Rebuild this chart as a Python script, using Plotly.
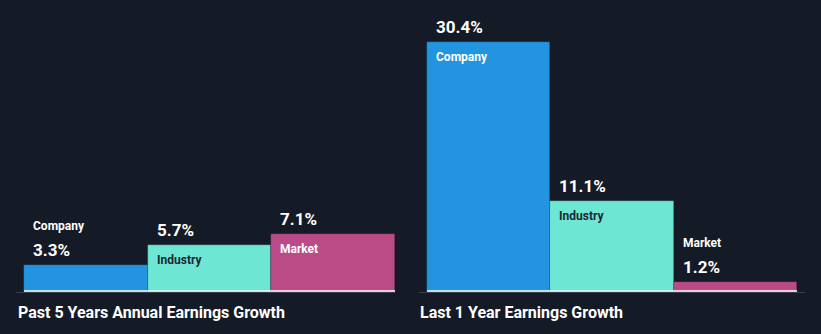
import plotly.graph_objects as go

categories = ["Company", "Industry", "Market"]
past5_values = [3.3, 5.7, 7.1]
last1_values = [30.4, 11.1, 1.2]
group_titles = ["Past 5 Years Annual Earnings Growth", "Last 1 Year Earnings Growth"]
bar_colors = ["#2394df", "#6ee6d4", "#bb4b87"]
label_colors = ["#ffffff", "#1b2631", "#ffffff"]

BG = "#151b26"
W, H = 821, 334

fig = go.Figure()
xs = list(range(len(categories)))
inside_threshold = 4.0

annotations = []
shapes = []
for gi, (vals, xref) in enumerate([(past5_values, "x"), (last1_values, "x2")]):
    fig.add_trace(go.Bar(
        x=xs, y=vals, width=1.0, marker_color=bar_colors,
        marker_line_width=0.6, marker_line_color="rgba(10,20,30,0.35)",
        xaxis=xref, yaxis="y", hoverinfo="skip", showlegend=False,
    ))
    # white baseline under bars
    shapes.append(dict(type="line", xref=xref, yref="y", x0=-0.5, x1=len(vals) - 0.5,
                       ysizemode="pixel", yanchor=0, y0=1, y1=1,
                       line=dict(color="#ffffff", width=1.5)))
    for i, v in enumerate(vals):
        annotations.append(dict(
            x=i - 0.5, y=v, xref=xref, yref="y", text=f"{v}%", showarrow=False,
            xanchor="left", yanchor="bottom", xshift=7, yshift=3,
            font=dict(family="Roboto", size=17, color="#ffffff", weight="bold"),
        ))
        if v >= inside_threshold:
            annotations.append(dict(
                x=i - 0.5, y=v, xref=xref, yref="y", text=categories[i], showarrow=False,
                xanchor="left", yanchor="top", xshift=7, yshift=-6,
                font=dict(family="Roboto", size=12, color=label_colors[i], weight="bold"),
            ))
        else:
            annotations.append(dict(
                x=i - 0.5, y=v, xref=xref, yref="y", text=categories[i], showarrow=False,
                xanchor="left", yanchor="bottom", xshift=7, yshift=30,
                font=dict(family="Roboto", size=12, color="#ffffff", weight="bold"),
            ))

title_x = [16 / W, 418 / W]
for t, tx in zip(group_titles, title_x):
    annotations.append(dict(
        x=tx, y=(H - 312.5) / H, xref="paper", yref="paper", text=t, showarrow=False,
        xanchor="left", yanchor="middle",
        font=dict(family="Roboto", size=16, color="#ffffff", weight="bold"),
    ))

d1 = 8 / 123.67
d2 = 8 / 123.4
axis_common = dict(showgrid=False, zeroline=False, showticklabels=False, ticks="",
                   showline=True, linecolor="#3a404b", linewidth=1, fixedrange=True)
fig.update_layout(
    width=W, height=H,
    margin=dict(l=0, r=0, t=0, b=0),
    paper_bgcolor=BG, plot_bgcolor=BG,
    bargap=0,
    xaxis=dict(domain=[16 / W, 395 / W], range=[-0.5 - d1, 2.5], anchor="y", **axis_common),
    xaxis2=dict(domain=[419 / W, 805 / W], range=[-0.5 - d2, 2.5 + d2], anchor="y", **axis_common),
    yaxis=dict(domain=[(H - 292) / H, (H - 37.1) / H], range=[0, 31], showgrid=False,
               zeroline=False, showticklabels=False, showline=False, fixedrange=True),
    annotations=annotations,
    shapes=shapes,
)

fig.write_html("out.html")
